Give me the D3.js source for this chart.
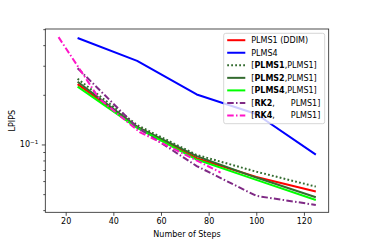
<!DOCTYPE html>
<html>
<head>
<meta charset="utf-8">
<script src="https://cdn.jsdelivr.net/npm/d3@7"></script>
<style>
  html, body { margin: 0; padding: 0; background: #fff; }
  svg { display: block; font-family: "DejaVu Sans", sans-serif; }
</style>
</head>
<body>
<div id="chart"></div>
<script>
// steps on the x axis
var steps = [25, 50, 75, 100, 125];
var stepsRK4 = [17, 34, 51, 68, 85];

// LPIPS values
var plms1Ddim = [0.232, 0.128, 0.0825, 0.0635, 0.0518];
var plms4 = [0.442, 0.321, 0.201, 0.153, 0.0868];
var plms1Plms1 = [0.250, 0.131, 0.0864, 0.0684, 0.0555];
var plms2Plms1 = [0.240, 0.128, 0.0850, 0.0630, 0.0479];
var plms4Plms1 = [0.224, 0.126, 0.0810, 0.0610, 0.0461];
var rk2Plms1 = [0.290, 0.127, 0.0740, 0.0488, 0.0430];
var rk4Plms1 = [0.447, 0.190, 0.119, 0.0900, 0.0676];

var xTicks = [20, 40, 60, 80, 100, 120];
var yMajorTicks = [0.1];
var yMinorTicks = [0.04, 0.05, 0.06, 0.07, 0.08, 0.09, 0.2, 0.3, 0.4, 0.5];

var series = [
  { bold: null, label: "PLMS1 (DDIM)", x: steps, y: plms1Ddim, color: "#ff0000", dash: null },
  { bold: null, label: "PLMS4", x: steps, y: plms4, color: "#0000ff", dash: null },
  { bold: "PLMS1", label: "PLMS1]", x: steps, y: plms1Plms1, color: "#336b2f", dash: "1.8,2.2" },
  { bold: "PLMS2", label: "PLMS1]", x: steps, y: plms2Plms1, color: "#336b2f", dash: null },
  { bold: "PLMS4", label: "PLMS1]", x: steps, y: plms4Plms1, color: "#00ff00", dash: null },
  { bold: "RK2", label: "PLMS1]", x: steps, y: rk2Plms1, color: "#7f2a85", dash: "6.5,2.3,1.5,2.3", gap: true },
  { bold: "RK4", label: "PLMS1]", x: stepsRK4, y: rk4Plms1, color: "#ff14c8", dash: "6.5,2.3,1.5,2.3", gap: true }
];

var W = 366, H = 244;
var margin = {top: 29, right: 37.3, bottom: 31.7, left: 45.3};
var width = W - margin.left - margin.right;
var height = H - margin.top - margin.bottom;

var svg = d3.select("#chart").append("svg")
  .attr("width", W)
  .attr("height", H);

var g = svg.append("g")
  .attr("transform", "translate(" + margin.left + "," + margin.top + ")");

var x = d3.scaleLinear().domain([11.44, 130.4]).range([0, width]);
var y = d3.scaleLog().domain([0.0388, 0.501]).range([height, 0]);

// Series lines
var line = d3.line()
  .x(function(d) { return x(d[0]); })
  .y(function(d) { return y(d[1]); });

series.forEach(function(s) {
  var pts = s.x.map(function(v, i) { return [v, s.y[i]]; });
  g.append("path")
    .datum(pts)
    .attr("d", line)
    .attr("fill", "none")
    .attr("stroke", s.color)
    .attr("stroke-width", 2)
    .attr("stroke-dasharray", s.dash)
    .attr("stroke-linejoin", "round");
});

// Axes
var xAxis = g.append("g")
  .attr("transform", "translate(0," + height + ")")
  .call(d3.axisBottom(x).tickValues(xTicks).tickSize(3.5).tickPadding(3).tickFormat(d3.format("d")));

var yAxis = g.append("g")
  .call(d3.axisLeft(y).tickValues(yMajorTicks).tickSize(3.5).tickPadding(3).tickFormat(""));

g.append("g")
  .call(d3.axisLeft(y).tickValues(yMinorTicks).tickSize(2).tickFormat(""));

g.selectAll(".domain").remove();
g.selectAll(".tick line").attr("stroke", "#222").attr("stroke-width", 0.8);
xAxis.selectAll("text").attr("font-size", 8).attr("fill", "#000").attr("font-family", "DejaVu Sans");

// 10^-1 label
yMajorTicks.forEach(function(t) {
  var lbl = g.append("text")
    .attr("x", -7)
    .attr("y", y(t) + 3)
    .attr("text-anchor", "end")
    .attr("font-size", 8);
  lbl.append("tspan").text("10");
  lbl.append("tspan").attr("font-size", 5.6).attr("dy", -3.5).text("\u22121");
});

// Spines
g.append("rect")
  .attr("width", width)
  .attr("height", height)
  .attr("fill", "none")
  .attr("stroke", "#222")
  .attr("stroke-width", 0.8);

// Axis labels
svg.append("text")
  .attr("x", margin.left + width / 2)
  .attr("y", 237.3)
  .attr("text-anchor", "middle")
  .attr("font-size", 8)
  .text("Number of Steps");

svg.append("text")
  .attr("transform", "translate(14.7," + (margin.top + height / 2) + ") rotate(-90)")
  .attr("text-anchor", "middle")
  .attr("font-size", 8)
  .text("LPIPS");

// Legend
var lg = svg.append("g").attr("transform", "translate(223.7,33.3)");
lg.append("rect")
  .attr("width", 101)
  .attr("height", 90.4)
  .attr("rx", 2)
  .attr("fill", "#fff")
  .attr("fill-opacity", 0.8)
  .attr("stroke", "#cccccc")
  .attr("stroke-width", 0.8);

var rowH = 12.55;
var textRight = 96.6;
series.forEach(function(s, i) {
  var cy = 6.9 + i * rowH;
  lg.append("line")
    .attr("x1", 3.5).attr("x2", 21.6)
    .attr("y1", cy).attr("y2", cy)
    .attr("stroke", s.color)
    .attr("stroke-width", 2)
    .attr("stroke-dasharray", s.dash);

  var t = lg.append("text")
    .attr("x", 27.6)
    .attr("y", cy + 2.9)
    .attr("font-size", 8);
  if (s.bold === null) {
    t.text(s.label);
  } else if (!s.gap) {
    t.append("tspan").text("[");
    t.append("tspan").attr("font-weight", "bold").text(s.bold);
    t.append("tspan").text("," + s.label);
  } else {
    t.append("tspan").text("[");
    t.append("tspan").attr("font-weight", "bold").text(s.bold);
    t.append("tspan").text(",");
    lg.append("text")
      .attr("x", textRight)
      .attr("y", cy + 2.9)
      .attr("text-anchor", "end")
      .attr("font-size", 8)
      .text(s.label);
  }
});
</script>
</body>
</html>
